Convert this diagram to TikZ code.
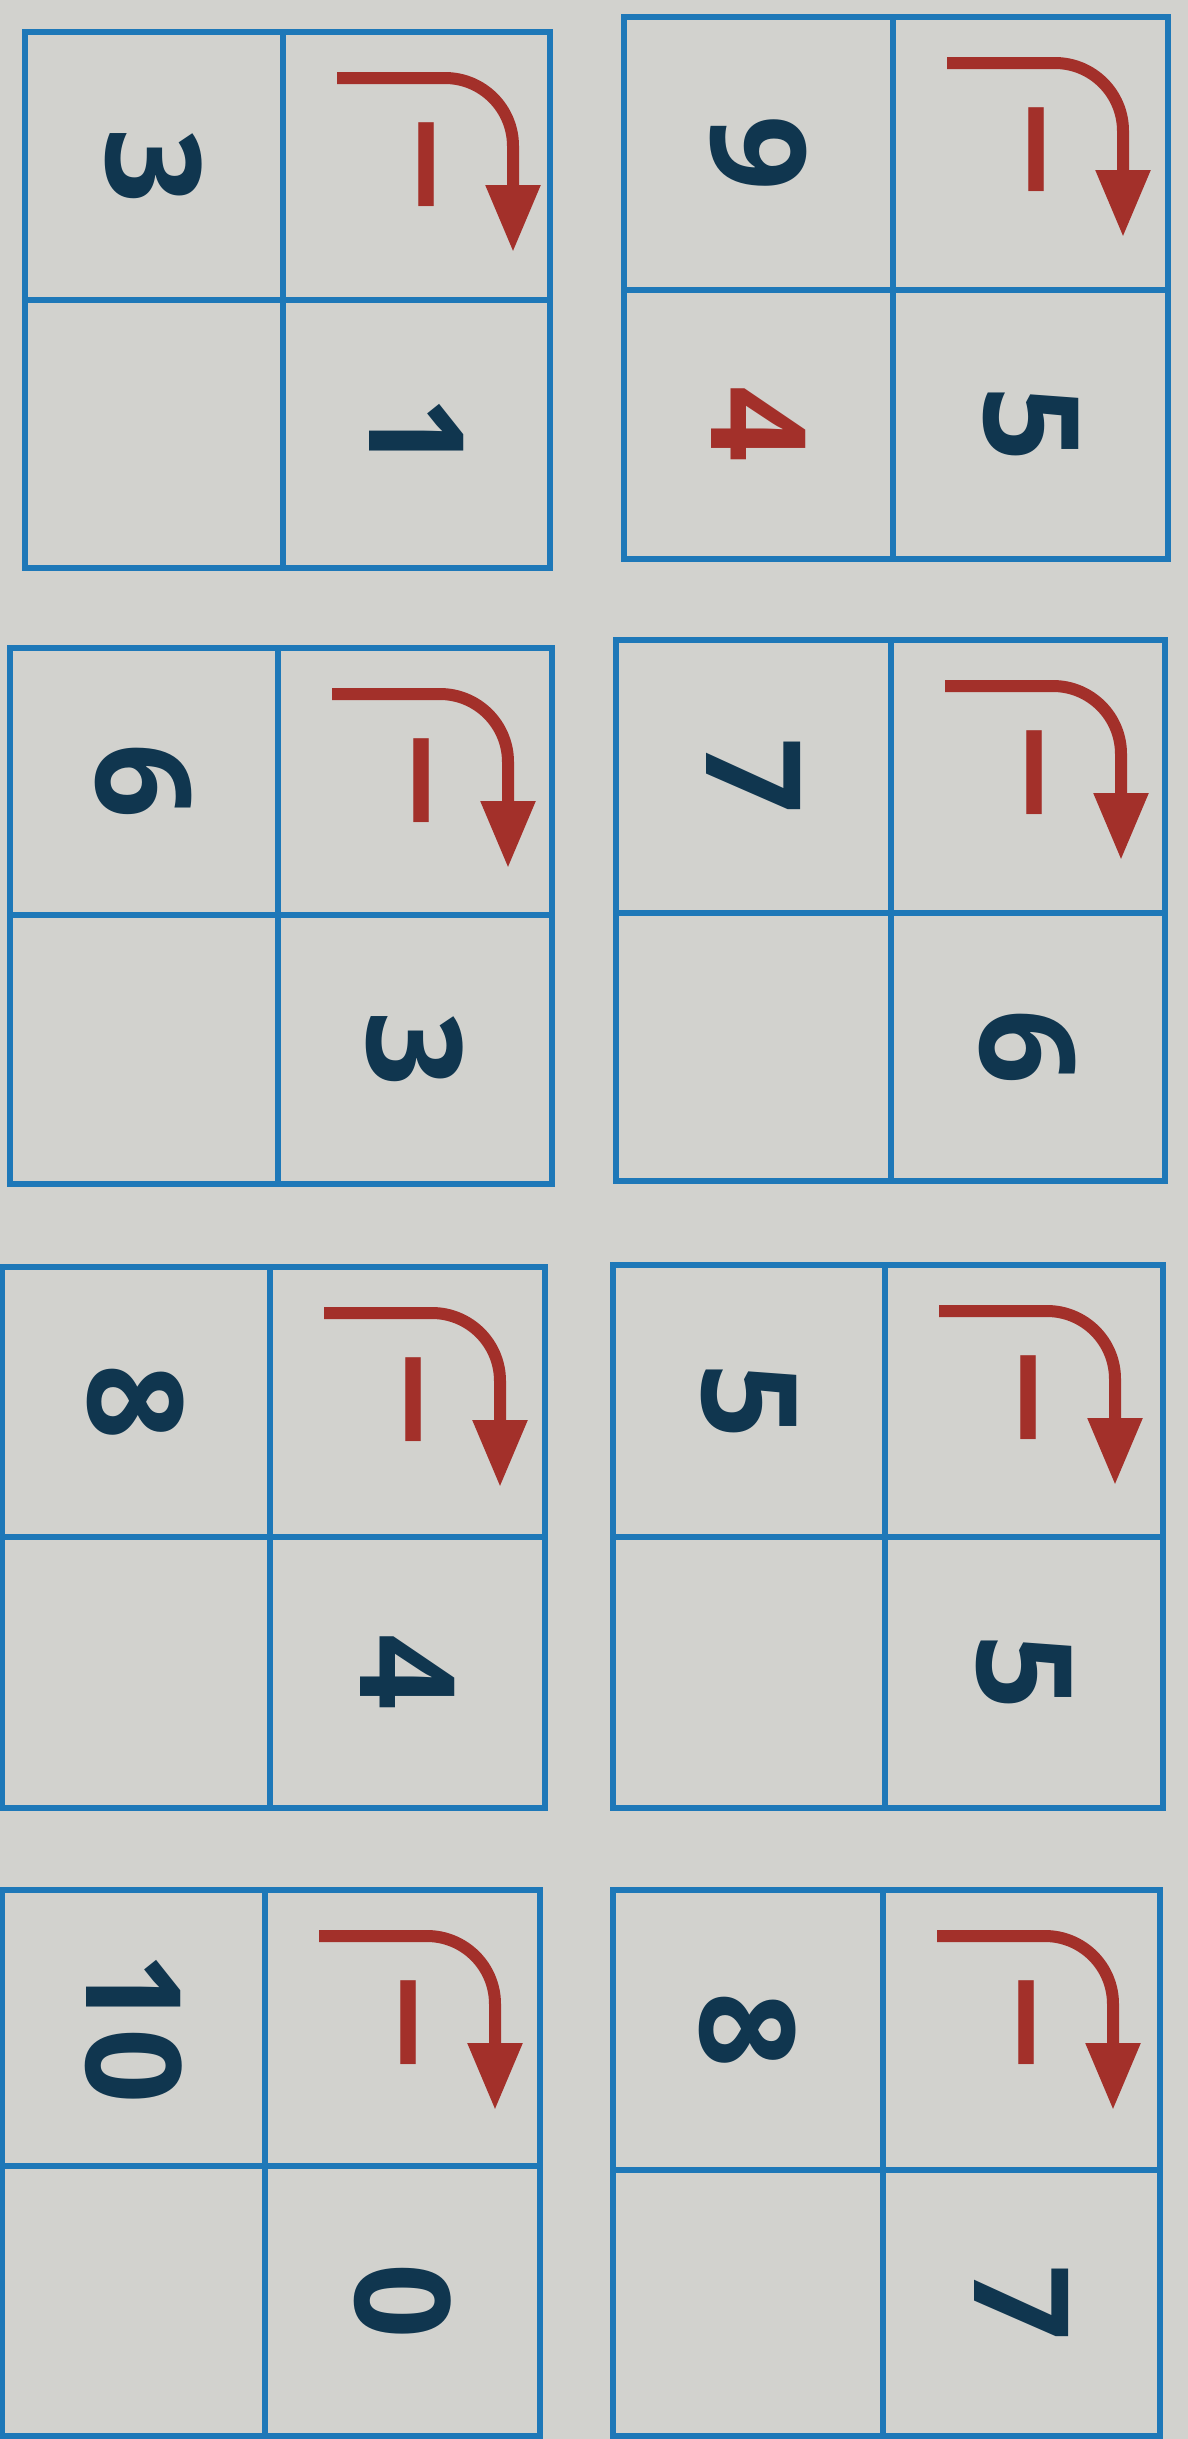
\documentclass[tikz,border=0pt]{standalone}
\usepackage{fontspec}
\setmainfont{Open Sans}
\newfontfamily\minusfont{DejaVu Sans}
\usetikzlibrary{arrows.meta}
\definecolor{bg}{HTML}{D2D2CE}
\definecolor{gridblue}{HTML}{1E78B8}
\definecolor{navy}{HTML}{10364F}
\definecolor{redarrow}{HTML}{A3302A}
\tikzset{
 gridline/.style={draw=gridblue, line width=6.5pt},
 num/.style={text=navy, font=\fontsize{132}{132}\selectfont\bfseries, rotate=-90, inner sep=0pt},
 rednum/.style={num, text=redarrow},
 minussign/.style={text=redarrow, font=\fontsize{134}{134}\minusfont\bfseries, rotate=-90, inner sep=0pt},
 turnarrow/.style={draw=redarrow, line width=12pt, rounded corners=68pt, -{Triangle[width=52pt,length=67pt]}},
}
\newcommand\mygrid[9]{%
 \draw[gridline] (#2,#3) rectangle (#4,#5);
 \draw[gridline] (#6,#3) -- (#6,#5);
 \draw[gridline] (#2,#7) -- (#4,#7);
 \node[num] (#1tl) at ({(#2+#6)/2},{(#3+#7)/2}) {#8};
 \node[num] (#1br) at ({(#6+#4)/2},{(#7+#5)/2}) {#9};
 \coordinate (#1a) at ({#6+54},{#3+46});
 \coordinate (#1b) at ({#6+230},{#3+46});
 \coordinate (#1c) at ({#6+230},{#3+220});
 \draw[turnarrow] (#1a) -- (#1b) -- (#1c);
 \node[minussign] (#1m) at ({#6+126},{#3+133}) {−};
}
\begin{document}
\begin{tikzpicture}[x=1pt,y=-1pt]
\useasboundingbox[fill=bg] (0,0) rectangle (1188,2439);
\mygrid{la}{25}{32}{550}{568}{283}{300}{3}{1}
\mygrid{ra}{624}{17}{1168}{559}{893}{290}{9}{5}
\node[rednum] (rabl) at ({(624+893)/2},{(290+559)/2}) {4};
\mygrid{lb}{10}{648}{552}{1184}{278}{915}{6}{3}
\mygrid{rb}{616}{640}{1165}{1181}{891}{913}{7}{6}
\mygrid{lc}{2}{1267}{545}{1808}{270}{1537}{8}{4}
\mygrid{rc}{613}{1265}{1163}{1808}{885}{1537}{5}{5}
\mygrid{ld}{2}{1890}{540}{2436}{265}{2166}{10}{0}
\mygrid{rd}{613}{1890}{1160}{2436}{883}{2170}{8}{7}
\end{tikzpicture}
\end{document}
